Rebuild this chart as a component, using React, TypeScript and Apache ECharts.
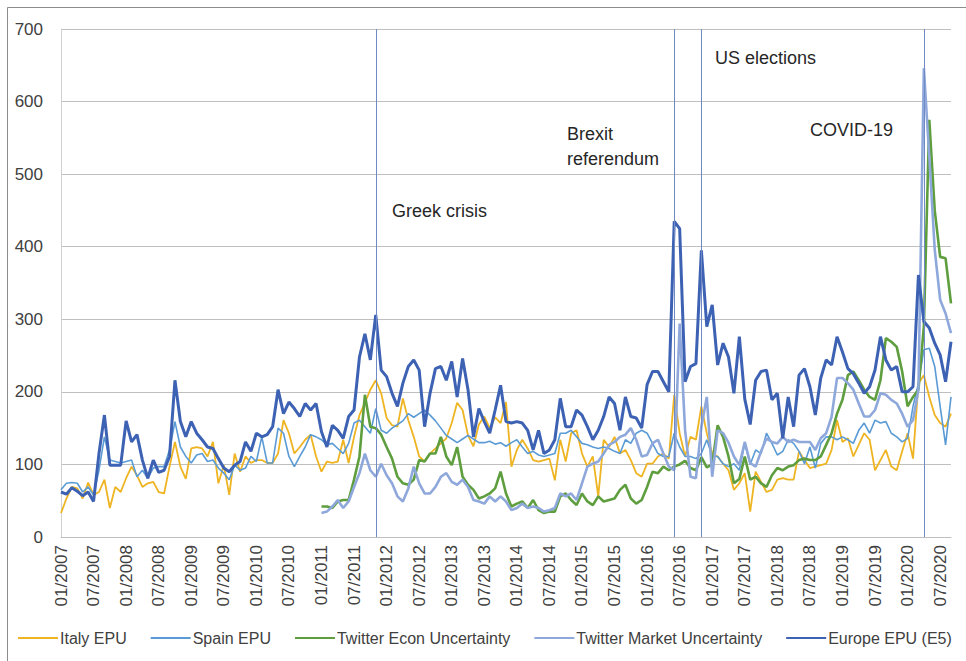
import React, { useEffect, useRef } from "react";
import * as echarts from "echarts";

// Monthly categories 01/2007 .. 09/2020
const startYear = 2007;
const monthCount = 165;
const categories: string[] = Array.from({ length: monthCount }, (_, i) =>
  `${String((i % 12) + 1).padStart(2, "0")}/${startYear + Math.floor(i / 12)}`
);

const italyEPU = [
  33, 53, 69, 67, 53, 75, 58, 62, 79, 40,
  69, 62, 81, 97, 85, 69, 74, 76, 62, 60,
  97, 131, 97, 80, 122, 124, 122, 111, 131, 74,
  99, 58, 115, 90, 111, 102, 106, 106, 102, 102,
  115, 161, 143, 115, 124, 134, 141, 111, 90, 104,
  102, 104, 134, 102, 138, 168, 185, 203, 216, 198,
  164, 154, 152, 191, 161, 138, 111, 104, 115, 122,
  129, 136, 157, 185, 175, 140, 125, 155, 166, 150,
  165, 157, 186, 97, 120, 134, 122, 106, 104, 106,
  108, 78, 134, 104, 143, 147, 115, 97, 111, 56,
  134, 124, 138, 115, 120, 106, 88, 83, 101, 101,
  111, 115, 108, 196, 143, 111, 138, 134, 180, 143,
  115, 111, 101, 92, 65, 74, 88, 35, 90, 76,
  62, 65, 79, 81, 79, 79, 118, 106, 95, 97,
  99, 101, 120, 161, 131, 136, 111, 127, 143, 134,
  92, 106, 120, 97, 92, 118, 143, 108, 212, 223,
  193, 168, 157, 152, 170,
];

const spainEPU = [
  65, 74, 75, 74, 62, 69, 58, 92, 138, 106,
  104, 102, 104, 106, 83, 92, 81, 95, 97, 97,
  120, 159, 124, 111, 102, 113, 115, 104, 106, 95,
  88, 79, 99, 92, 95, 111, 104, 138, 102, 102,
  150, 143, 111, 97, 111, 124, 141, 138, 134, 127,
  129, 122, 115, 129, 157, 161, 152, 143, 177, 147,
  143, 150, 155, 160, 170, 165, 170, 175, 168, 160,
  150, 140, 135, 130, 135, 140, 135, 130, 130, 132,
  128, 130, 125, 130, 134, 124, 115, 118, 113, 111,
  113, 115, 143, 143, 147, 138, 129, 127, 124, 122,
  124, 122, 118, 115, 134, 129, 143, 147, 143, 129,
  115, 111, 111, 143, 124, 111, 111, 108, 115, 134,
  111, 111, 101, 97, 101, 92, 129, 100, 120, 115,
  143, 129, 113, 118, 134, 129, 118, 101, 124, 95,
  129, 138, 138, 134, 138, 134, 129, 147, 157, 143,
  161, 157, 159, 143, 138, 131, 136, 180, 212, 258,
  260, 235, 180, 127, 193,
];

// Twitter indices start in 01/2011 (category index 48)
const twitterStartIndex = 48;

const twitterEcon = [
  42, 42, 40, 49, 51, 51, 79, 111, 196, 152,
  150, 141, 124, 108, 83, 74, 72, 79, 106, 104,
  115, 115, 138, 111, 99, 124, 83, 72, 65, 53,
  56, 60, 67, 90, 60, 42, 46, 49, 40, 51,
  37, 33, 35, 35, 56, 60, 51, 44, 60, 49,
  44, 56, 49, 51, 53, 65, 72, 53, 46, 51,
  69, 90, 88, 97, 92, 97, 100, 105, 95, 92,
  110, 96, 100, 154, 138, 111, 74, 80, 111, 79,
  83, 74, 69, 85, 95, 92, 97, 99, 106, 108,
  106, 106, 111, 127, 143, 170, 189, 223, 228, 216,
  203, 193, 189, 216, 274, 269, 262, 228, 180, 193,
  203, 290, 575, 450, 386, 384, 322,
];

const twitterMarket = [
  33, 35, 42, 51, 40, 49, 69, 88, 115, 92,
  83, 101, 85, 74, 56, 49, 67, 97, 74, 60,
  60, 69, 83, 88, 76, 72, 79, 69, 51, 49,
  46, 56, 49, 56, 49, 37, 40, 46, 40, 42,
  40, 35, 37, 40, 60, 56, 60, 51, 74, 97,
  101, 104, 115, 127, 131, 138, 141, 150, 134, 111,
  113, 129, 134, 115, 97, 92, 294, 147, 83, 81,
  152, 193, 83, 147, 143, 130, 111, 99, 131, 102,
  97, 118, 136, 131, 129, 138, 131, 134, 131, 131,
  131, 120, 136, 143, 166, 219, 219, 212, 203, 184,
  166, 166, 175, 198, 196, 189, 184, 170, 152, 161,
  203, 646, 524, 396, 327, 308, 281,
];

const europeEPU = [
  62, 59, 68, 63, 57, 62, 49, 115, 168, 99,
  99, 99, 160, 131, 141, 106, 81, 106, 89, 92,
  111, 216, 159, 138, 159, 143, 134, 124, 122, 108,
  95, 90, 99, 104, 131, 118, 143, 138, 141, 152,
  203, 170, 186, 177, 166, 184, 175, 184, 145, 124,
  154, 147, 136, 166, 175, 248, 280, 244, 306, 230,
  221, 198, 180, 212, 235, 244, 230, 152, 198, 232,
  235, 216, 242, 193, 246, 203, 138, 177, 159, 143,
  175, 209, 159, 157, 159, 157, 147, 120, 147, 115,
  120, 134, 191, 152, 152, 175, 168, 152, 134, 147,
  166, 193, 184, 147, 193, 166, 164, 150, 210, 228,
  228, 214, 200, 435, 425, 214, 235, 239, 395, 290,
  320, 237, 267, 248, 198, 276, 190, 155, 216, 228,
  230, 189, 198, 136, 193, 152, 223, 232, 207, 168,
  219, 244, 237, 276, 255, 232, 225, 212, 198, 207,
  230, 276, 244, 230, 235, 200, 200, 207, 361, 297,
  288, 267, 251, 214, 269,
];

// Event markers (category index)
const eventIndices = [58, 113, 118, 159];
const yTicks = { min: 0, max: 700, interval: 100 };

const padTwitter = (arr: number[]) => [
  ...Array(twitterStartIndex).fill(null),
  ...arr,
];

export default function App() {
  const ref = useRef<HTMLDivElement>(null);

  useEffect(() => {
    if (!ref.current) return;
    const chart = echarts.init(ref.current, undefined, { renderer: "svg" });
    const font = "'Liberation Sans', Arial, sans-serif";
    const mkSeries = (name: string, data: any[], color: string, width: number, extra: any = {}) => ({
      name,
      type: "line",
      data,
      symbol: "none",
      showSymbol: false,
      connectNulls: false,
      lineStyle: { color, width },
      itemStyle: { color },
      ...extra,
    });

    chart.setOption({
      animation: false,
      backgroundColor: "#ffffff",
      textStyle: { fontFamily: font },
      grid: { left: 61, right: 15, top: 29, bottom: 124, containLabel: false },
      legend: {
        left: 18,
        top: 630,
        width: 946,
        padding: 0,
        icon: "rect",
        itemWidth: 40,
        itemHeight: 2,
        itemGap: 24,
        textStyle: { fontSize: 16, color: "#404040", fontFamily: font, padding: [0, 0, 0, -3] },
        data: [
          "Italy EPU",
          "Spain EPU",
          "Twitter Econ Uncertainty",
          "Twitter Market Uncertainty",
          "Europe EPU (E5)",
        ],
      },
      xAxis: {
        type: "category",
        data: categories,
        boundaryGap: false,
        axisLine: { show: true, lineStyle: { color: "#BFBFBF", width: 1 } },
        axisTick: { show: false },
        axisLabel: {
          interval: 5,
          rotate: 90,
          fontSize: 17,
          color: "#404040",
          margin: 8,
          fontFamily: font,
        },
        splitLine: { show: false },
      },
      yAxis: {
        type: "value",
        min: yTicks.min,
        max: yTicks.max,
        interval: yTicks.interval,
        axisLine: { show: true, lineStyle: { color: "#D0D0D0", width: 1 } },
        axisTick: { show: false },
        axisLabel: { fontSize: 17, color: "#404040", margin: 18, fontFamily: font },
        splitLine: { show: true, lineStyle: { color: "#BFBFBF", width: 1 } },
      },
      series: [
        mkSeries("Italy EPU", italyEPU, "#EEB422", 1.8),
        mkSeries("Spain EPU", spainEPU, "#5B9BD5", 1.6),
        mkSeries("Twitter Econ Uncertainty", padTwitter(twitterEcon), "#5E9E3E", 2.6),
        mkSeries("Twitter Market Uncertainty", padTwitter(twitterMarket), "#8FA8DB", 2.6),
        mkSeries("Europe EPU (E5)", europeEPU, "#3D62B4", 3, {
          markLine: {
            silent: true,
            symbol: ["none", "none"],
            label: { show: false },
            lineStyle: { color: "#6F8AC4", width: 1, type: "solid" },
            data: eventIndices.map((i) => ({ xAxis: categories[i] })),
          },
        }),
      ],
      graphic: [
        {
          type: "rect",
          silent: true,
          shape: { x: 7.5, y: 7.5, width: 1000, height: 700 },
          style: { fill: "none", stroke: "#8C8C8C", lineWidth: 1 },
        },
        {
          type: "text",
          left: 392,
          top: 202,
          style: { text: "Greek crisis", fontSize: 18, fill: "#262626", fontFamily: font },
        },
        {
          type: "text",
          left: 567,
          top: 121,
          style: {
            text: "Brexit\nreferendum",
            fontSize: 18,
            lineHeight: 25,
            fill: "#262626",
            fontFamily: font,
          },
        },
        {
          type: "text",
          left: 715,
          top: 49,
          style: { text: "US elections", fontSize: 18, fill: "#262626", fontFamily: font },
        },
        {
          type: "text",
          left: 810,
          top: 121,
          style: { text: "COVID-19", fontSize: 18, fill: "#262626", fontFamily: font },
        },
      ],
    });

    return () => chart.dispose();
  }, []);

  return (
    <div
      ref={ref}
      style={{
        position: "fixed",
        left: 0,
        top: 0,
        width: 966,
        height: 661,
        background: "#fff",
      }}
    />
  );
}
